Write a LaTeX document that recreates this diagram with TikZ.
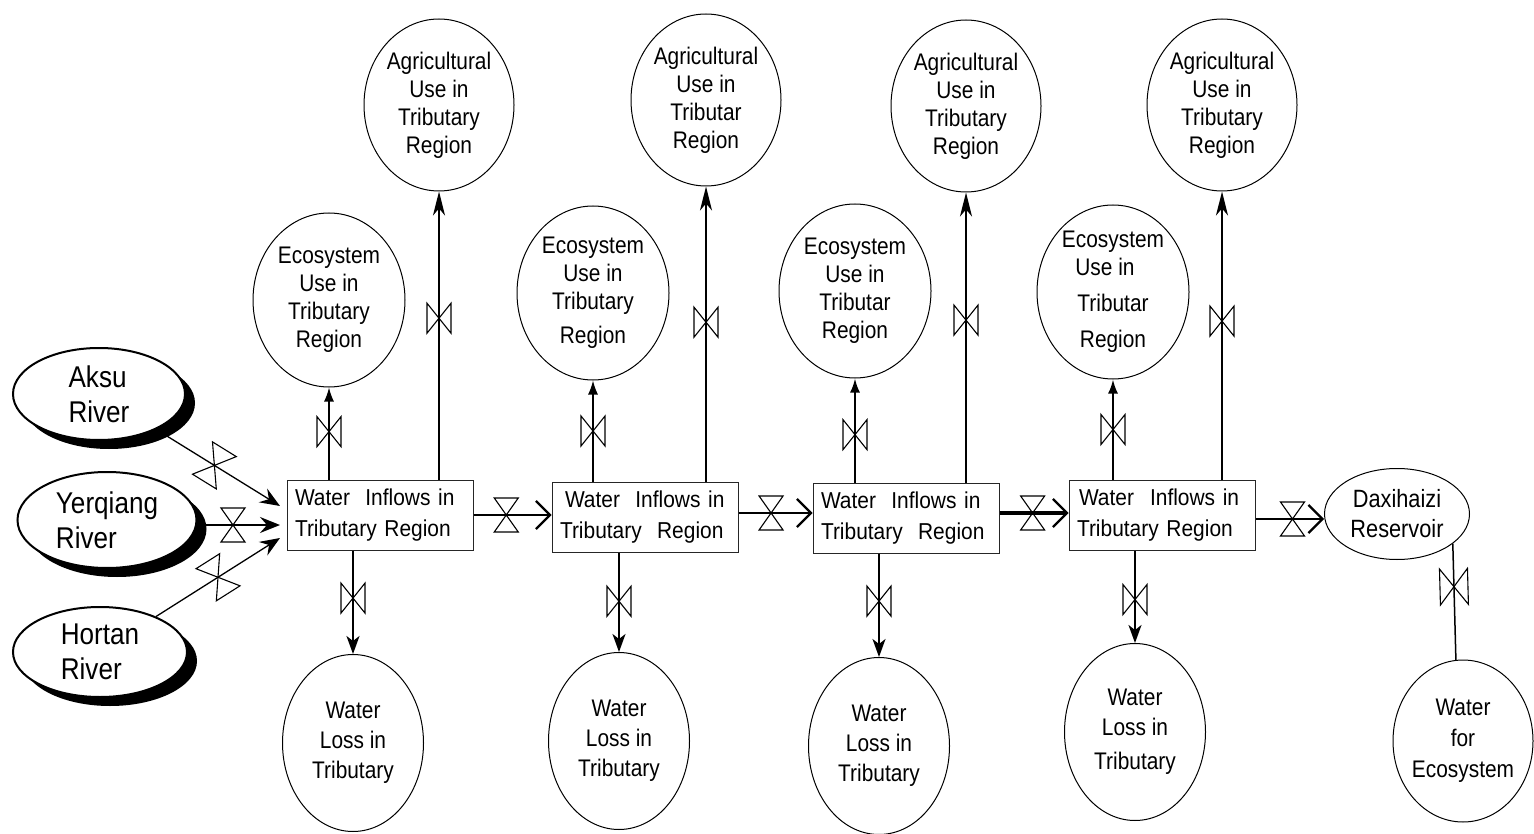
\documentclass[tikz,border=0pt]{standalone}
\usepackage{fontspec}
\setmainfont{Liberation Sans}
\newfontfamily\cfont[FakeStretch=0.87]{Liberation Sans}
\newfontfamily\bfont[FakeStretch=0.91]{Liberation Sans}
\usetikzlibrary{arrows.meta,shapes.geometric,shadows}
\begin{document}
\begin{tikzpicture}[x=1pt,y=-1pt,
  circ/.style={draw, ellipse, line width=1pt, inner sep=0pt, align=center, font=\cfont\fontsize{24}{28}\selectfont},
  agri/.style={circ, minimum width=150pt, minimum height=172pt},
  eco/.style={circ, minimum width=152pt, minimum height=174pt},
  loss/.style={circ, minimum width=141pt, minimum height=177pt, font=\cfont\fontsize{24}{30}\selectfont},
  box/.style={draw=black!85, line width=1pt, minimum height=70pt, text width=170pt, inner xsep=8pt, inner ysep=0pt, align=left, font=\bfont\fontsize{23}{31}\selectfont},
  river/.style={ellipse, draw, line width=2pt, fill=white, inner sep=0pt, align=left, font=\cfont\fontsize{30}{35}\selectfont, drop shadow={shadow xshift=10pt, shadow yshift=-9pt, opacity=1, fill=black}},
  valvepath/.style={-, draw, line width=1.1pt},
  hvalve/.pic={\draw[valvepath] (-12,17) -- (12,17) -- (-12,-17) -- (12,-17) -- cycle;},
  rvalve/.pic={\draw[valvepath] (-14,19) -- (14,19) -- (-14,-19) -- (14,-19) -- cycle;},
  vvalve/.pic={\draw[valvepath] (-15,12) -- (15,12) -- (-15,-12) -- (15,-12) -- cycle;},
  dvalve/.pic={\draw[valvepath] (-18,14) -- (18,14) -- (-18,-14) -- (18,-14) -- cycle;},
  rivarr/.style={line width=1.3pt, -{Stealth[length=20pt,width=16pt,inset=7pt]}},
  boxarr/.style={line width=2pt, -{Straight Barb[length=14pt,width=28pt,line width=2.2pt]}},
  ecoarr/.style={line width=1.5pt, -{Latex[length=14pt,width=10pt]}},
  agriarr/.style={line width=2pt, -{Stealth[length=24pt,width=12pt,inset=7pt]}},
  lossarr/.style={line width=2pt, -{Stealth[length=18pt,width=13pt,inset=5pt]}}
]
\useasboundingbox (0,0) rectangle (1534,834);

% rivers
\node[river, minimum width=172pt, minimum height=92pt] (aksu) at (99,394) {Aksu\\River};
\node[river, minimum width=179pt, minimum height=96pt] (yer) at (107,520) {Yerqiang\\River};
\node[river, minimum width=174pt, minimum height=90pt] (hor) at (100,652) {Hortan\\River};

% boxes
\node[box] (b1) at (380,515) {Water\ \ Inflows in\\Tributary Region};
\node[box] (b2) at (645,517) {\hspace*{5pt}Water\ \ Inflows in\\Tributary\ \ Region};
\node[box] (b3) at (906,518) {Water\ \ Inflows in\\Tributary\ \ Region};
\node[box] (b4) at (1162,515) {\hspace*{2pt}Water\hspace{16pt}Inflows in\\Tributary Region};

% upper circles
\node[agri] (agri1) at (439,105) {Agricultural\\Use in\\Tributary\\Region};
\node[agri] (agri2) at (706,100) {Agricultural\\Use in\\Tributar\\Region};
\node[agri] (agri3) at (966,106) {Agricultural\\Use in\\Tributary\\Region};
\node[agri] (agri4) at (1222,105) {Agricultural\\Use in\\Tributary\\Region};

\node[eco] (eco1) at (329,300) {Ecosystem\\Use in\\Tributary\\Region};
\node[eco] (eco2) at (593,293) {Ecosystem\\Use in\\Tributary\\[6pt]Region};
\node[eco] (eco3) at (855,291) {Ecosystem\\Use in\\Tributar\\Region};
\node[eco] (eco4) at (1113,292) {Ecosystem\\\hspace*{-16pt}Use in\\[8pt]Tributar\\[8pt]Region};

% lower circles
\node[loss] (loss1) at (353,743) {Water\\Loss in\\Tributary};
\node[loss] (loss2) at (619,741) {Water\\Loss in\\Tributary};
\node[loss] (loss3) at (879,746) {Water\\Loss in\\Tributary};
\node[loss] (loss4) at (1135,732) {Water\\Loss in\\[4pt]Tributary};

\node[circ, minimum width=145pt, minimum height=91pt, font=\cfont\fontsize{25}{30}\selectfont] (dax) at (1397,514) {Daxihaizi\\Reservoir};
\node[circ, minimum width=140pt, minimum height=162pt, inner xsep=-6pt, font=\cfont\fontsize{24}{31}\selectfont] (wfe) at (1463,741) {Water\\for\\Ecosystem};

% inflow ends
\coordinate (ta) at (280,506);
\coordinate (ty) at (280,525);
\coordinate (th) at (280,538);

% river inflows
\draw[rivarr] (aksu) -- (ta) pic[pos=.47,sloped]{rvalve};
\draw[rivarr, line width=2pt] (yer.east |- ty) -- (ty) pic[pos=.43,sloped]{hvalve};
\draw[rivarr] (hor) -- (th) pic[pos=.5,sloped]{rvalve};

% main chain
\draw[boxarr] (b1.east) -- (b1.east -| b2.west) pic[pos=.42,sloped]{hvalve};
\draw[boxarr] ([yshift=4pt]b2.east) -- ([yshift=4pt]b2.east -| b3.west) pic[pos=.44,sloped]{hvalve};
\draw[boxarr, line width=4pt] ([yshift=5pt]b3.east) -- ([yshift=5pt]b3.east -| b4.west) pic[pos=.48,sloped]{hvalve};
\draw[boxarr] ([yshift=-4pt]b4.east) -- ([yshift=-4pt]b4.east -| dax.west) pic[pos=.54,sloped]{hvalve};

% outflows to ecosystem use
\draw[ecoarr] (eco1.south |- b1.north) -- (eco1.south) pic[pos=.52,sloped]{vvalve};
\draw[ecoarr] (eco2.south |- b2.north) -- (eco2.south) pic[pos=.5,sloped]{vvalve};
\draw[ecoarr, line width=2pt] (eco3.south |- b3.north) -- (eco3.south) pic[pos=.46,sloped]{vvalve};
\draw[ecoarr, line width=2pt] (eco4.south |- b4.north) -- (eco4.south) pic[pos=.5,sloped]{vvalve};

% outflows to agriculture
\draw[agriarr] (agri1.south |- b1.north) -- (agri1.south) pic[pos=.56,sloped]{vvalve};
\draw[agriarr] (agri2.south |- b2.north) -- (agri2.south) pic[pos=.54,sloped]{vvalve};
\draw[agriarr] (agri3.south |- b3.north) -- (agri3.south) pic[pos=.56,sloped]{vvalve};
\draw[agriarr] (agri4.south |- b4.north) -- (agri4.south) pic[pos=.55,sloped]{vvalve};

% losses
\draw[lossarr] (loss1.north |- b1.south) -- (loss1.north) pic[pos=.46,sloped]{vvalve};
\draw[lossarr] (loss2.north |- b2.south) -- (loss2.north) pic[pos=.49,sloped]{vvalve};
\draw[lossarr] (loss3.north |- b3.south) -- (loss3.north) pic[pos=.46,sloped]{vvalve};
\draw[lossarr] (loss4.north |- b4.south) -- (loss4.north) pic[pos=.53,sloped]{vvalve};

% reservoir release
\draw[line width=1.5pt] (dax.-28) -- (wfe.95) pic[pos=.37,sloped]{dvalve};
\end{tikzpicture}
\end{document}
